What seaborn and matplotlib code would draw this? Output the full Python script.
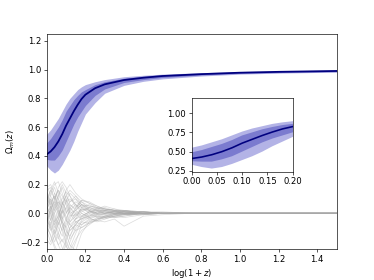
import numpy as np
import pandas as pd
import matplotlib
matplotlib.use("Agg")
import matplotlib.pyplot as plt
import seaborn as sns

# ---------------- data ----------------
x_grid = [0.00, 0.02, 0.04, 0.06, 0.08, 0.10, 0.12, 0.14, 0.16, 0.18, 0.20,
          0.25, 0.30, 0.40, 0.50, 0.60, 0.80, 1.00, 1.20, 1.50]
omega_median = [0.41, 0.43, 0.46, 0.50, 0.55, 0.61, 0.66, 0.71, 0.755, 0.795, 0.825,
                0.87, 0.897, 0.927, 0.943, 0.955, 0.968, 0.978, 0.984, 0.99]
outer_lo = [0.33, 0.30, 0.28, 0.30, 0.34, 0.39, 0.44, 0.50, 0.57, 0.63, 0.69,
            0.77, 0.835, 0.89, 0.918, 0.935, 0.955, 0.968, 0.975, 0.982]
outer_hi = [0.55, 0.58, 0.62, 0.66, 0.71, 0.76, 0.80, 0.83, 0.86, 0.88, 0.895,
            0.915, 0.93, 0.95, 0.96, 0.968, 0.978, 0.986, 0.99, 0.997]
inner_lo = [0.375, 0.37, 0.37, 0.40, 0.44, 0.50, 0.56, 0.62, 0.67, 0.71, 0.75,
            0.82, 0.865, 0.91, 0.93, 0.945, 0.962, 0.973, 0.979, 0.985]
inner_hi = [0.49, 0.52, 0.56, 0.60, 0.65, 0.71, 0.75, 0.79, 0.82, 0.845, 0.86,
            0.895, 0.915, 0.94, 0.953, 0.963, 0.974, 0.982, 0.987, 0.994]

x_resid = [0.00, 0.02, 0.04, 0.06, 0.08, 0.10, 0.12, 0.15, 0.18, 0.22, 0.26, 0.30,
           0.35, 0.40, 0.50, 0.60, 0.75, 1.50]
residual_curves = [
    [0.05, 0.12, 0.18, 0.10, 0.02, -0.05, -0.08, -0.04, 0.04, 0.06, 0.03, 0.02, 0.00, 0.01, 0.01, 0.00, 0.00, 0.0],
    [-0.10, -0.15, -0.22, -0.28, -0.30, -0.20, -0.10, -0.06, -0.08, -0.04, -0.02, -0.03, -0.01, 0.01, 0.00, 0.00, 0.00, 0.0],
    [0.15, 0.08, 0.02, 0.12, 0.20, 0.14, 0.06, 0.03, 0.08, 0.05, 0.04, 0.03, 0.02, 0.01, -0.01, 0.00, 0.00, 0.0],
    [0.00, -0.05, 0.05, 0.08, -0.02, -0.10, -0.18, -0.12, -0.06, -0.07, -0.04, -0.02, -0.03, -0.02, 0.00, 0.00, 0.00, 0.0],
    [-0.05, 0.02, 0.10, 0.16, 0.12, 0.08, 0.10, 0.06, 0.02, -0.02, 0.01, 0.03, 0.02, 0.02, 0.01, 0.01, 0.00, 0.0],
    [0.10, 0.16, 0.10, 0.00, -0.08, -0.15, -0.22, -0.26, -0.14, -0.06, -0.03, -0.02, 0.00, -0.01, 0.00, 0.00, 0.00, 0.0],
    [-0.15, -0.08, 0.00, 0.05, 0.10, 0.15, 0.12, 0.04, 0.09, 0.07, 0.05, 0.03, 0.01, 0.02, 0.00, 0.00, 0.00, 0.0],
    [0.02, -0.04, -0.12, -0.18, -0.10, -0.04, 0.02, 0.06, 0.04, 0.00, -0.03, -0.04, -0.02, -0.01, 0.00, 0.00, 0.00, 0.0],
    [0.18, 0.20, 0.14, 0.06, 0.00, 0.04, 0.08, 0.10, 0.06, 0.04, 0.02, 0.00, 0.01, 0.00, 0.01, 0.00, 0.00, 0.0],
    [-0.08, -0.16, -0.24, -0.30, -0.26, -0.18, -0.12, -0.08, -0.10, -0.06, -0.05, -0.03, -0.02, -0.01, 0.00, 0.00, 0.00, 0.0],
    [0.06, 0.10, 0.04, -0.04, 0.06, 0.12, 0.16, 0.12, 0.06, 0.02, 0.03, 0.04, 0.02, 0.02, 0.00, 0.00, 0.00, 0.0],
    [-0.02, 0.05, -0.02, -0.10, -0.16, -0.08, -0.02, -0.01, 0.02, 0.04, 0.02, 0.01, -0.01, -0.01, -0.01, 0.00, 0.00, 0.0],
    [0.12, 0.04, -0.06, -0.02, 0.08, 0.02, -0.06, -0.02, 0.03, 0.01, 0.00, 0.02, 0.01, 0.00, 0.00, 0.00, 0.00, 0.0],
    [-0.12, -0.20, -0.12, -0.04, 0.02, -0.02, -0.08, -0.12, -0.10, -0.07, -0.05, -0.02, -0.03, -0.02, 0.00, 0.00, 0.00, 0.0],
    [0.08, 0.14, 0.20, 0.22, 0.14, 0.06, 0.00, 0.02, 0.06, 0.05, 0.04, 0.03, 0.02, 0.01, 0.01, 0.00, 0.00, 0.0],
    [-0.04, -0.10, -0.16, -0.22, -0.28, -0.32, -0.24, -0.14, -0.06, -0.03, -0.01, 0.00, 0.01, 0.00, 0.00, 0.00, 0.00, 0.0],
    [0.03, 0.08, 0.12, 0.04, -0.06, -0.10, -0.04, 0.04, 0.09, 0.08, 0.05, 0.03, 0.02, 0.02, 0.00, 0.00, 0.00, 0.0],
    [-0.06, 0.00, 0.06, 0.12, 0.18, 0.10, 0.02, -0.04, -0.02, 0.01, 0.02, 0.00, -0.01, 0.00, 0.00, 0.00, 0.00, 0.0],
    [0.14, 0.06, -0.04, -0.14, -0.20, -0.14, -0.06, 0.00, 0.03, 0.02, 0.00, -0.01, -0.02, -0.01, 0.00, 0.00, 0.00, 0.0],
    [0.00, 0.04, 0.08, 0.02, -0.04, 0.00, 0.06, 0.02, -0.02, -0.04, -0.05, -0.06, -0.04, -0.09, -0.02, -0.01, 0.00, 0.0],
    [-0.10, -0.04, 0.02, 0.08, 0.04, -0.04, -0.12, -0.08, -0.03, 0.01, 0.02, 0.02, 0.01, 0.01, 0.01, 0.00, 0.00, 0.0],
    [0.20, 0.12, 0.06, 0.00, -0.06, -0.12, -0.16, -0.08, -0.02, 0.01, 0.00, 0.01, 0.00, 0.00, 0.00, 0.00, 0.00, 0.0],
    [-0.02, -0.08, -0.14, -0.08, 0.00, 0.08, 0.14, 0.10, 0.04, 0.02, -0.01, -0.02, 0.00, 0.00, 0.00, 0.00, 0.00, 0.0],
    [0.04, 0.00, -0.08, -0.16, -0.24, -0.28, -0.20, -0.10, -0.05, -0.02, -0.01, 0.00, 0.01, 0.01, 0.00, 0.00, 0.00, 0.0],
    [-0.06, 0.04, 0.14, 0.10, 0.04, 0.10, 0.04, -0.02, 0.01, 0.04, 0.03, 0.01, 0.00, 0.00, 0.00, 0.00, 0.00, 0.0],
    [0.10, 0.02, -0.08, -0.02, 0.06, 0.16, 0.20, 0.14, 0.10, 0.07, 0.04, 0.02, 0.03, 0.01, 0.00, 0.00, 0.00, 0.0],
    [-0.18, -0.22, -0.16, -0.06, -0.12, -0.22, -0.30, -0.20, -0.08, -0.05, -0.04, -0.03, -0.01, 0.00, 0.00, 0.00, 0.00, 0.0],
    [0.16, 0.18, 0.10, 0.16, 0.08, 0.00, 0.04, 0.00, -0.04, -0.02, 0.00, 0.01, 0.02, 0.00, 0.00, 0.00, 0.00, 0.0],
    [-0.04, -0.12, -0.06, 0.02, -0.08, -0.16, -0.10, -0.04, 0.00, -0.03, -0.06, -0.04, -0.02, -0.03, -0.01, 0.00, 0.00, 0.0],
    [0.08, 0.16, 0.22, 0.14, 0.06, 0.12, 0.08, 0.12, 0.08, 0.03, 0.01, 0.02, 0.01, 0.01, 0.01, 0.00, 0.00, 0.0],
    [-0.12, -0.06, -0.14, -0.22, -0.18, -0.24, -0.16, -0.06, -0.04, -0.01, 0.01, 0.00, 0.00, -0.01, 0.00, 0.00, 0.00, 0.0],
    [0.02, 0.10, 0.00, -0.08, 0.02, 0.08, 0.00, -0.06, -0.04, 0.00, 0.03, 0.05, 0.03, 0.02, 0.01, 0.00, 0.00, 0.0],
    [0.06, -0.02, -0.10, -0.04, -0.12, -0.06, 0.04, 0.08, 0.05, 0.02, -0.02, -0.03, -0.02, 0.00, -0.01, 0.00, 0.00, 0.0],
    [-0.08, 0.02, 0.08, 0.18, 0.22, 0.18, 0.12, 0.06, 0.00, -0.03, -0.02, 0.00, 0.01, 0.01, 0.00, 0.00, 0.00, 0.0],
    [0.12, 0.06, 0.12, 0.04, -0.04, -0.20, -0.26, -0.18, -0.12, -0.08, -0.04, -0.02, -0.01, 0.00, 0.00, 0.00, 0.00, 0.0],
    [-0.02, -0.10, -0.20, -0.14, -0.04, 0.04, -0.02, 0.02, 0.06, 0.03, 0.00, -0.01, 0.00, 0.01, 0.00, 0.00, 0.00, 0.0],
]

main_xticks = [0.0, 0.2, 0.4, 0.6, 0.8, 1.0, 1.2, 1.4]
main_yticks = [-0.2, 0.0, 0.2, 0.4, 0.6, 0.8, 1.0, 1.2]
inset_xticks = [0.00, 0.05, 0.10, 0.15, 0.20]
inset_yticks = [0.25, 0.50, 0.75, 1.00]

# ---------------- build frames ----------------
df_med = pd.DataFrame({"x": x_grid, "y": omega_median})
rows = []
for i, curve in enumerate(residual_curves):
    for xv, yv in zip(x_resid, curve):
        rows.append((i, xv, yv))
df_res = pd.DataFrame(rows, columns=["unit", "x", "y"])

OUTER = "#b3b3e6"
INNER = "#7b7bcf"
LINE = "#00007f"

plt.rcParams["font.size"] = 10.5
dpi = 58.4
fig = plt.figure(figsize=(374 / dpi, 280 / dpi), dpi=dpi)
ax = fig.add_axes([0.125, 0.11, 0.775, 0.77])


def draw(a, lw):
    a.fill_between(x_grid, outer_lo, outer_hi, color=OUTER, lw=0)
    a.fill_between(x_grid, inner_lo, inner_hi, color=INNER, lw=0)
    sns.lineplot(data=df_med, x="x", y="y", ax=a, color=LINE, lw=lw)


sns.lineplot(data=df_res, x="x", y="y", units="unit", estimator=None, ax=ax,
             color="#a8a8a8", alpha=0.4, lw=0.9)
draw(ax, 2.2)
ax.set_xlim(0, 1.5)
ax.set_ylim(-0.25, 1.25)
ax.set_xticks(main_xticks)
ax.set_yticks(main_yticks)
ax.set_xlabel(r"$\log(1+z)$")
ax.set_ylabel(r"$\Omega_m(z)$")

axins = fig.add_axes([0.5125, 0.387, 0.27, 0.264])
draw(axins, 2.0)
axins.set_xlim(0, 0.2)
axins.set_ylim(0.24, 1.2)
axins.set_xticks(inset_xticks)
axins.set_yticks(inset_yticks)
axins.set_xlabel("")
axins.set_ylabel("")

fig.savefig("out.png", dpi=dpi)
